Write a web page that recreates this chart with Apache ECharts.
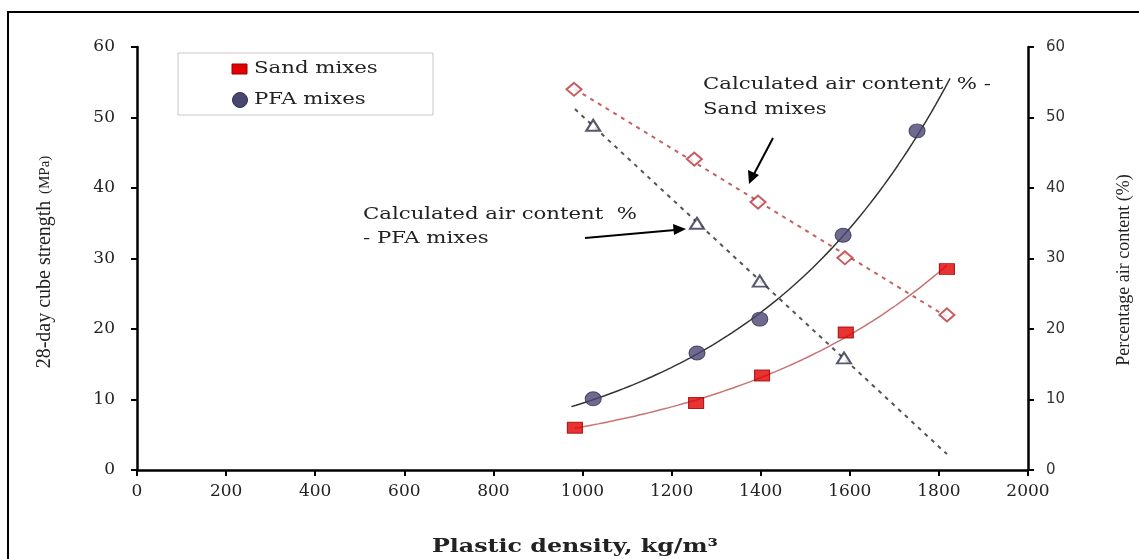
<!DOCTYPE html>
<html>
<head>
<meta charset="utf-8">
<script src="https://cdn.jsdelivr.net/npm/echarts@6/dist/echarts.min.js"></script>
<style>
html,body{margin:0;padding:0;background:#fff;}
#chart{width:1139px;height:559px;}
</style>
</head>
<body>
<div id="chart"></div>
<script>
// ---- data ----
var sandDensity   = [983, 1255, 1403, 1591, 1818];
var sandStrength  = [6.0, 9.5, 13.4, 19.5, 28.5];
var pfaDensity    = [1024, 1257, 1398, 1585, 1751];
var pfaStrength   = [10.1, 16.6, 21.4, 33.3, 48.1];
var sandAirDensity = [981, 1251, 1394, 1589, 1818];
var sandAir        = [54.0, 44.1, 38.0, 30.1, 22.0];
var pfaAirDensity  = [1024, 1257, 1398, 1587];
var pfaAir         = [48.9, 35.0, 26.8, 15.9];
var xTicks = [0, 200, 400, 600, 800, 1000, 1200, 1400, 1600, 1800, 2000];
var yTicks = [0, 10, 20, 30, 40, 50, 60];
// trendline extents (x range over which fitted lines are drawn)
var sandCurveRange = [983, 1818];
var pfaCurveRange  = [975, 1825];
var airLineRange   = [983, 1818];

function pairs(xs, ys){ return xs.map(function(x,i){return [x, ys[i]];}); }
function linFit(xs, ys){
  var n=xs.length, sx=0, sy=0, sxx=0, sxy=0;
  for(var i=0;i<n;i++){sx+=xs[i];sy+=ys[i];sxx+=xs[i]*xs[i];sxy+=xs[i]*ys[i];}
  var b=(n*sxy-sx*sy)/(n*sxx-sx*sx); var a=(sy-b*sx)/n;
  return function(x){return a+b*x;};
}
function expFit(xs, ys){
  var f=linFit(xs, ys.map(Math.log));
  return function(x){return Math.exp(f(x));};
}
function sample(fn, range, steps){
  var out=[]; for(var i=0;i<=steps;i++){var x=range[0]+(range[1]-range[0])*i/steps; out.push([x, fn(x)]);} return out;
}
var sandCurve = sample(expFit(sandDensity, sandStrength), sandCurveRange, 80);
var pfaCurve  = sample(expFit(pfaDensity, pfaStrength), pfaCurveRange, 80);
var sandAirLine = sample(linFit(sandAirDensity, sandAir), airLineRange, 1);
var pfaAirLine  = sample(linFit(pfaAirDensity, pfaAir), airLineRange, 1);

var serif = '"DejaVu Serif", serif';
var SX = 1.25; // horizontal stretch of the reference's text

function txt(x, y, s, font, extra){
  var o = {type:'text', x:x, y:y, scaleX:SX, z:11, silent:true,
    style:{text:s, font:font, fill:'#222', verticalAlign:'middle', align:'left'}};
  if(extra){ for(var k in extra){ o.style[k]=extra[k]; } }
  return o;
}

var chart = echarts.init(document.getElementById('chart'));
var option = {
  animation:false,
  backgroundColor:'#fff',
  grid:{left:137, right:111, top:47, bottom:89},
  xAxis:{
    type:'value', min:xTicks[0], max:xTicks[xTicks.length-1], interval:200,
    axisLine:{show:true, lineStyle:{color:'#000', width:2.5}},
    axisTick:{show:true, length:6, lineStyle:{color:'#000', width:2}},
    axisLabel:{color:'#222', fontFamily:serif, fontSize:17, margin:13, formatter:function(v){return String(v);}},
    splitLine:{show:false}
  },
  yAxis:[{
    type:'value', min:yTicks[0], max:yTicks[yTicks.length-1], interval:10,
    axisLine:{show:true, lineStyle:{color:'#000', width:2.5}},
    axisTick:{show:true, length:6, lineStyle:{color:'#000', width:2}},
    axisLabel:{color:'#222', fontFamily:serif, fontSize:17, margin:22},
    splitLine:{show:false}
  },{
    type:'value', min:yTicks[0], max:yTicks[yTicks.length-1], interval:10, position:'right',
    axisLine:{show:true, lineStyle:{color:'#000', width:2.5}},
    axisTick:{show:true, length:6, lineStyle:{color:'#000', width:2}},
    axisLabel:{color:'#333', fontFamily:'"DejaVu Sans", sans-serif', fontSize:15, margin:18},
    splitLine:{show:false}
  }],
  series:[
    {type:'line', data:sandCurve, showSymbol:false, symbol:'none',
     lineStyle:{color:'#c87272', width:1.5}, z:2, silent:true},
    {type:'line', data:pfaCurve, showSymbol:false, symbol:'none',
     lineStyle:{color:'#333', width:1.5}, z:2, silent:true},
    {type:'line', data:sandAirLine, yAxisIndex:1, symbol:'none',
     lineStyle:{color:'#c46060', width:2, type:[4,5]}, z:2},
    {type:'line', data:pfaAirLine, yAxisIndex:1, symbol:'none',
     lineStyle:{color:'#555', width:2, type:[4,5]}, z:2},
    {name:'Sand mixes', type:'scatter', data:pairs(sandDensity, sandStrength),
     symbol:'rect', symbolSize:[15,11],
     itemStyle:{color:'#e30000', borderColor:'#9a0000', borderWidth:1}, z:5},
    {name:'PFA mixes', type:'scatter', data:pairs(pfaDensity, pfaStrength),
     symbol:'circle', symbolSize:[16,14],
     itemStyle:{color:'#4a4672', borderColor:'#2e2b55', borderWidth:1}, z:5},
    {type:'scatter', data:pairs(sandAirDensity, sandAir), yAxisIndex:1,
     symbol:'diamond', symbolSize:[15,13],
     itemStyle:{color:'#fff', borderColor:'#b8323a', borderWidth:2}, z:5},
    {type:'scatter', data:pairs(pfaAirDensity, pfaAir), yAxisIndex:1,
     symbol:'triangle', symbolSize:[14,11],
     itemStyle:{color:'#fff', borderColor:'#2e2e48', borderWidth:2}, z:5}
  ],
  graphic:[
    {type:'rect', shape:{x:8, y:12, width:1160, height:580}, style:{fill:null, stroke:'#000', lineWidth:2}, z:0, silent:true},
    // legend box
    {type:'rect', shape:{x:178, y:53, width:255, height:62}, style:{fill:'#fff', stroke:'#c8c8c8', lineWidth:1}, z:10},
    {type:'rect', shape:{x:232, y:64, width:15, height:10}, style:{fill:'#e30000', stroke:'#9a0000', lineWidth:1}, z:11},
    txt(254, 69, 'Sand mixes', '17px "DejaVu Serif", serif'),
    {type:'circle', shape:{cx:240, cy:100, r:7.5}, style:{fill:'#4a4672', stroke:'#2e2b55'}, z:11},
    txt(254, 100, 'PFA mixes', '17px "DejaVu Serif", serif'),
    // axis titles
    {type:'text', x:45, y:262, rotation:Math.PI/2, z:11,
     style:{text:'{a|28-day cube strength}  {b|(MPa)}', align:'center', verticalAlign:'middle',
       rich:{a:{font:'20px "Liberation Serif", serif', fill:'#222'}, b:{font:'15px "Liberation Serif", serif', fill:'#222'}}}},
    {type:'text', x:1124, y:270, rotation:Math.PI/2, z:11,
     style:{text:'Percentage air content (%)', align:'center', verticalAlign:'middle', font:'18px "Liberation Serif", serif', fill:'#222'}},
    {type:'text', x:575, y:547, scaleX:SX, z:11,
     style:{text:'Plastic density, kg/m³', align:'center', verticalAlign:'middle', font:'bold 19px "DejaVu Serif", serif', fill:'#222'}},
    // annotations
    txt(703, 85, 'Calculated air content  % -', '17px "DejaVu Serif", serif'),
    txt(703, 110, 'Sand mixes', '17px "DejaVu Serif", serif'),
    txt(363, 215, 'Calculated air content  %', '17px "DejaVu Serif", serif'),
    txt(363, 239, '- PFA mixes', '17px "DejaVu Serif", serif'),
    {type:'line', shape:{x1:773, y1:138, x2:754, y2:174}, style:{stroke:'#000', lineWidth:2}, z:11},
    {type:'polygon', shape:{points:[[749,184],[748,170],[759,175]]}, style:{fill:'#000'}, z:11},
    {type:'line', shape:{x1:585, y1:238, x2:675, y2:230}, style:{stroke:'#000', lineWidth:2}, z:11},
    {type:'polygon', shape:{points:[[686,229],[673,224],[674,235]]}, style:{fill:'#000'}, z:11}
  ]
};
chart.setOption(option);
</script>
</body>
</html>
